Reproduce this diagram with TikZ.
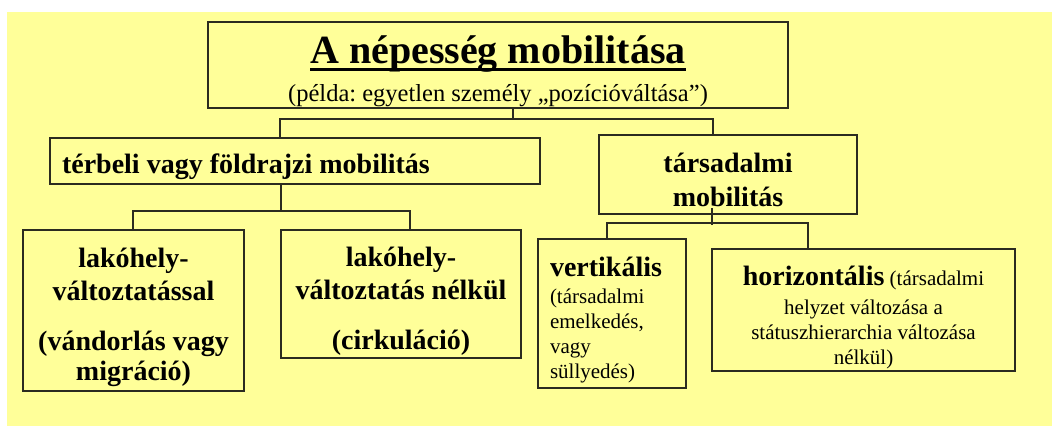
\documentclass[tikz,border=0pt]{standalone}
\usepackage{fontspec}
\setmainfont{Liberation Serif}
\frenchspacing
\newcommand\myul[1]{\leavevmode\setbox0\hbox{#1}\rlap{\vrule height -4.5pt depth 7.5pt width \wd0}\box0}
\newcommand\tstrut[1]{\rule{0pt}{#1}}
\definecolor{bgyellow}{HTML}{FFFF99}
\definecolor{edgecol}{HTML}{2B2B20}
\newcommand\fbold{\fontsize{28}{32}\selectfont\bfseries}
\begin{document}
\begin{tikzpicture}[x=1pt,y=-1pt,
  box/.style={draw=edgecol, line width=1.6pt, fill=bgyellow, inner sep=0pt, outer sep=0pt, align=flush center},
  conn/.style={draw=edgecol, line width=1.3pt}]
\useasboundingbox (0,0) rectangle (1052,426);
\fill[white] (0,0) rectangle (1052,426);
\fill[bgyellow] (7,12) rectangle (1052,426);

% boxes
\node[box, minimum width=580pt, minimum height=86pt, text width=560pt] (top) at (498,65)
  {\tstrut{40pt}{\fontsize{40}{44}\selectfont\bfseries\myul{A népesség mobilitása}}\\[11pt]
   {\fontsize{24.5}{30}\selectfont (példa: egyetlen személy „pozícióváltása”)}};
\node[box, minimum width=490pt, minimum height=46pt, text width=466pt, align=flush left, font=\fbold] (geo) at (295,161)
  {\tstrut{31pt}térbeli vagy földrajzi mobilitás};
\node[box, minimum width=258pt, minimum height=79pt, text width=240pt, font=\fontsize{28}{34}\selectfont\bfseries] (soc) at (728,174.5)
  {\tstrut{30pt}társadalmi\\mobilitás};
\node[box, minimum width=221pt, minimum height=161pt, text width=210pt, font=\fontsize{28}{33}\selectfont\bfseries] (b1) at (133.5,310.5)
  {\tstrut{33pt}lakóhely-\\változtatással\\[17pt](vándorlás vagy\\[-3pt]migráció)};
\node[box, minimum width=240pt, minimum height=128pt, text width=230pt, font=\fontsize{28}{33}\selectfont\bfseries] (b2) at (401,294)
  {\tstrut{33pt}lakóhely-\\változtatás nélkül\\[17pt](cirkuláció)};
\node[box, minimum width=148pt, minimum height=149pt, text width=124pt, align=flush left, font=\fontsize{21}{25}\selectfont] (vert) at (612,313.5)
  {\tstrut{33pt}{\fbold vertikális}\\[2pt](társadalmi\\emelkedés,\\vagy\\süllyedés)};
\node[box, minimum width=303pt, minimum height=122pt, text width=290pt, font=\fontsize{21}{25}\selectfont] (hor) at (863.5,310)
  {\tstrut{34pt}{\fbold horizontális} (társadalmi\\[4pt]helyzet változása a\\státuszhierarchia változása\\nélkül)};

% junction coordinates
\coordinate (j0) at (513,119);
\coordinate (ja) at (280,119);
\coordinate (jb) at (713,119);
\coordinate (jc) at (281,211);
\coordinate (jd) at (133,211);
\coordinate (je) at (410,211);
\coordinate (jf) at (712,223);
\coordinate (jg) at (607,223);
\coordinate (jh) at (808,223);

% connectors
\draw[conn] (top.south -| j0) -- (j0);
\draw[conn] (geo.north -| ja) -- (ja) -- (jb) -- (soc.north -| jb);
\draw[conn] (geo.south -| jc) -- (jc);
\draw[conn] (b1.north -| jd) -- (jd) -- (je) -- (b2.north -| je);
\draw[conn] ([yshift=6pt]soc.south -| jf) -- ([yshift=-2pt]jf);
\draw[conn] (vert.north -| jg) -- (jg) -- (jh) -- (hor.north -| jh);
\end{tikzpicture}
\end{document}
